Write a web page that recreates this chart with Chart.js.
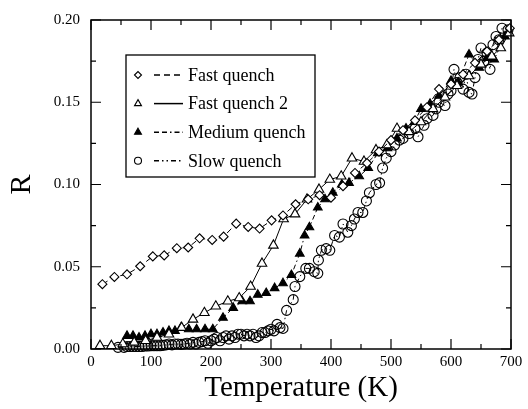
<!DOCTYPE html>
<html>
<head>
<meta charset="utf-8">
<script src="https://cdn.jsdelivr.net/npm/chart.js@4/dist/chart.umd.min.js"></script>
<style>
  body { margin: 0; background: #fff; }
  #wrap { width: 528px; height: 409px; position: relative; }
</style>
</head>
<body>
<div id="wrap"><canvas id="chart"></canvas></div>
<script>
// tick labels
const xTicks = [0, 100, 200, 300, 400, 500, 600, 700];
const yTicks = [0, 0.05, 0.10, 0.15, 0.20];

const seriesNames = ['Fast quench', 'Fast quench 2', 'Medium quench', 'Slow quench'];

// Fast quench (open diamonds, dashed)
const fastT = [19, 39, 60, 82, 103, 122, 143, 162, 181, 202, 221, 242, 262, 281, 301, 320, 341, 362, 381, 400,
    420, 440, 460, 480, 500, 520, 540, 560, 580, 600, 620, 640, 660, 680, 698];
const fastR = [0.0394, 0.0438, 0.0454, 0.0503, 0.0563, 0.0569, 0.0613, 0.0617, 0.0673, 0.0663, 0.0683, 0.0762, 0.0742, 0.0732, 0.0782, 0.0812, 0.0880, 0.0910, 0.0935, 0.0920,
    0.099, 0.107, 0.113, 0.120, 0.127, 0.133, 0.139, 0.147, 0.158, 0.161, 0.167, 0.174, 0.181, 0.188, 0.195];

// Fast quench 2 (open triangles, solid)
const fast2T = [15, 34, 53, 72, 91, 110, 130, 151, 170, 189, 208, 228, 247, 266, 285, 304, 321, 340, 360, 380, 398,
    417, 435, 455, 475, 493, 510, 530, 550, 570, 590, 610, 630, 650, 668, 683, 697];
const fast2R = [0.002, 0.002, 0.003, 0.004, 0.005, 0.007, 0.009, 0.013, 0.018, 0.022, 0.026, 0.029, 0.031, 0.038, 0.052, 0.063, 0.079, 0.082, 0.091, 0.097, 0.103,
    0.105, 0.116, 0.114, 0.121, 0.124, 0.134, 0.132, 0.138, 0.146, 0.153, 0.160, 0.166, 0.173, 0.178, 0.183, 0.192];

// Medium quench (filled triangles)
const medT = [60, 70, 80, 90, 100, 110, 120, 130, 140, 150, 163, 176, 190, 203, 220, 237, 252, 265, 278, 292, 306, 320, 334,
    348, 356, 364, 378, 390, 403, 418, 430, 447, 462, 478, 494, 510, 525, 539, 550, 565, 580, 600, 612, 630, 647, 660, 672, 690];
const medR = [0.008, 0.008, 0.007, 0.008, 0.009, 0.009, 0.010, 0.011, 0.011, 0.013, 0.012, 0.012, 0.012, 0.012, 0.019, 0.025, 0.029, 0.029, 0.033, 0.034, 0.037, 0.040, 0.045,
    0.058, 0.069, 0.074, 0.086, 0.091, 0.095, 0.100, 0.101, 0.105, 0.110, 0.119, 0.122, 0.128, 0.134, 0.138, 0.146, 0.149, 0.154, 0.163, 0.162, 0.179, 0.171, 0.177, 0.176, 0.190];

// Slow quench (open circles)
const slowT = [45, 55, 60, 65, 70, 75, 80, 85, 90, 95, 100, 105, 110, 115, 120, 125, 130, 135, 140, 145, 150, 155, 160, 165, 170, 175,
    180, 185, 190, 195, 200, 205, 210, 215, 220, 225, 230, 235, 240, 245, 250, 255, 260, 265, 270, 275, 280, 285, 290, 295, 300, 305,
    310, 315, 320, 326, 337, 340, 348, 358, 364, 372, 378, 379, 384, 392, 398, 406, 414, 420, 428, 434, 439, 445, 453, 459, 464, 475,
    481, 486, 492, 500, 506, 514, 520, 530, 540, 545, 555, 560, 570, 575, 580, 590, 595, 600, 605, 610, 615, 620, 625, 630, 635, 640,
    645, 650, 655, 660, 665, 670, 675, 680, 685, 695];
const slowR = [0.001, 0.001, 0.0015, 0.0015, 0.0015, 0.0015, 0.0015, 0.0015, 0.0018, 0.0018, 0.002, 0.002, 0.002, 0.002, 0.0022, 0.0025, 0.003, 0.0025, 0.003, 0.003, 0.0028, 0.003, 0.0035, 0.003, 0.004, 0.003,
    0.004, 0.0045, 0.005, 0.0035, 0.005, 0.006, 0.007, 0.005, 0.007, 0.008, 0.006, 0.008, 0.007, 0.009, 0.009, 0.008, 0.009, 0.008, 0.009, 0.007, 0.008, 0.010, 0.010, 0.011, 0.012, 0.011,
    0.015, 0.013, 0.0125, 0.0235, 0.030, 0.038, 0.044, 0.049, 0.049, 0.047, 0.046, 0.054, 0.060, 0.061, 0.060, 0.069, 0.068, 0.076, 0.071, 0.075, 0.079, 0.083, 0.083, 0.090, 0.095, 0.100,
    0.101, 0.110, 0.116, 0.120, 0.124, 0.127, 0.128, 0.131, 0.134, 0.129, 0.136, 0.140, 0.142, 0.146, 0.150, 0.148, 0.155, 0.157, 0.170, 0.162, 0.165, 0.158, 0.167, 0.156, 0.155, 0.165,
    0.176, 0.183, 0.175, 0.180, 0.170, 0.185, 0.190, 0.188, 0.195, 0.194];

const SERIF = "'Liberation Serif', 'DejaVu Serif', serif";

function toPoints(xs, ys) {
    return xs.map((x, i) => ({ x: x, y: ys[i] }));
}

// frame + inward ticks on all four sides, and the boxed legend
const framePlugin = {
    id: 'frame',
    afterDatasetsDraw(chart) {
        const { ctx, chartArea: a, scales: { x, y } } = chart;
        ctx.save();
        ctx.strokeStyle = '#000';
        ctx.lineWidth = 1.5;
        ctx.strokeRect(a.left, a.top, a.right - a.left, a.bottom - a.top);
        ctx.lineWidth = 1.2;
        ctx.beginPath();
        for (let i = 0; i < xTicks.length; i++) {
            const px = x.getPixelForValue(xTicks[i]);
            ctx.moveTo(px, a.bottom); ctx.lineTo(px, a.bottom - 10);
            ctx.moveTo(px, a.top); ctx.lineTo(px, a.top + 10);
            if (i < xTicks.length - 1) {
                const mx = x.getPixelForValue((xTicks[i] + xTicks[i + 1]) / 2);
                ctx.moveTo(mx, a.bottom); ctx.lineTo(mx, a.bottom - 5);
                ctx.moveTo(mx, a.top); ctx.lineTo(mx, a.top + 5);
            }
        }
        for (let i = 0; i < yTicks.length; i++) {
            const py = y.getPixelForValue(yTicks[i]);
            ctx.moveTo(a.left, py); ctx.lineTo(a.left + 10, py);
            ctx.moveTo(a.right, py); ctx.lineTo(a.right - 10, py);
            if (i < yTicks.length - 1) {
                const my = y.getPixelForValue((yTicks[i] + yTicks[i + 1]) / 2);
                ctx.moveTo(a.left, my); ctx.lineTo(a.left + 5, my);
                ctx.moveTo(a.right, my); ctx.lineTo(a.right - 5, my);
            }
        }
        ctx.stroke();

        // legend box
        const bx = 126, by = 55, bw = 189, bh = 122;
        ctx.fillStyle = '#fff';
        ctx.fillRect(bx, by, bw, bh);
        ctx.lineWidth = 1.3;
        ctx.strokeRect(bx, by, bw, bh);
        ctx.font = '18px ' + SERIF;
        ctx.textBaseline = 'middle';
        ctx.textAlign = 'left';
        chart.data.datasets.forEach((ds, i) => {
            const rowY = 75 + i * 28.6;
            ctx.strokeStyle = '#000';
            ctx.fillStyle = ds.pointBackgroundColor === '#000' ? '#000' : 'rgba(0,0,0,0)';
            ctx.lineWidth = 1.1;
            ctx.setLineDash([]);
            Chart.helpers.drawPoint(ctx, {
                pointStyle: ds.pointStyle,
                radius: ds.legendRadius,
                rotation: 0,
                borderWidth: 1.1
            }, 138, rowY);
            ctx.save();
            ctx.lineWidth = 1.5;
            ctx.setLineDash(ds.borderDash || []);
            ctx.beginPath();
            ctx.moveTo(154, rowY);
            ctx.lineTo(183, rowY);
            ctx.stroke();
            ctx.restore();
            ctx.fillStyle = '#000';
            ctx.fillText(ds.label, 188, rowY + 1);
        });
        ctx.restore();
    }
};

const common = {
    borderColor: '#000',
    borderWidth: 1,
    pointBorderColor: '#000',
    pointBorderWidth: 1.1,
    showLine: true,
    clip: 6
};

new Chart(document.getElementById('chart'), {
    type: 'scatter',
    data: {
        datasets: [
            Object.assign({}, common, {
                label: seriesNames[0],
                data: toPoints(fastT, fastR),
                pointStyle: 'rectRot', pointRadius: 4.5, legendRadius: 3.5,
                pointBackgroundColor: '#fff',
                borderDash: [6, 4]
            }),
            Object.assign({}, common, {
                label: seriesNames[1],
                data: toPoints(fast2T, fast2R),
                pointStyle: 'triangle', pointRadius: 5.5, legendRadius: 4,
                pointBackgroundColor: '#fff'
            }),
            Object.assign({}, common, {
                label: seriesNames[2],
                data: toPoints(medT, medR),
                pointStyle: 'triangle', pointRadius: 5, legendRadius: 4,
                pointBackgroundColor: '#000',
                borderDash: [5, 3, 5, 3, 1.5, 3]
            }),
            Object.assign({}, common, {
                label: seriesNames[3],
                data: toPoints(slowT, slowR),
                pointStyle: 'circle', pointRadius: 5, legendRadius: 3.5,
                pointBackgroundColor: 'rgba(0,0,0,0)',
                borderDash: [5, 3, 1.5, 3, 1.5, 3]
            })
        ]
    },
    options: {
        responsive: true,
        maintainAspectRatio: false,
        animation: false,
        layout: { padding: { top: 14, right: 17, left: 0, bottom: 0 } },
        plugins: {
            legend: { display: false },
            tooltip: { enabled: false }
        },
        scales: {
            x: {
                type: 'linear',
                min: 0, max: 700,
                afterBuildTicks: (s) => { s.ticks = xTicks.map(v => ({ value: v })); },
                afterFit: (s) => { s.height = 60; },
                grid: { display: false, drawTicks: false },
                border: { display: false },
                ticks: {
                    padding: 4,
                    color: '#000',
                    font: { family: SERIF, size: 15 },
                    maxRotation: 0
                },
                title: {
                    display: true,
                    text: 'Temperature (K)',
                    color: '#000',
                    font: { family: SERIF, size: 29, lineHeight: 1 },
                    padding: { top: 0, bottom: 6 }
                }
            },
            y: {
                type: 'linear',
                min: 0, max: 0.2,
                afterBuildTicks: (s) => { s.ticks = yTicks.map(v => ({ value: v })); },
                afterFit: (s) => { s.width = 91; },
                grid: { display: false, drawTicks: false },
                border: { display: false },
                ticks: {
                    padding: 11,
                    color: '#000',
                    font: { family: SERIF, size: 15 },
                    callback: (v) => v.toFixed(2)
                },
                title: {
                    display: true,
                    text: 'R',
                    color: '#000',
                    font: { family: SERIF, size: 30, lineHeight: 1 },
                    padding: { top: 7, bottom: 0 }
                }
            }
        }
    },
    plugins: [framePlugin]
});
</script>
</body>
</html>
